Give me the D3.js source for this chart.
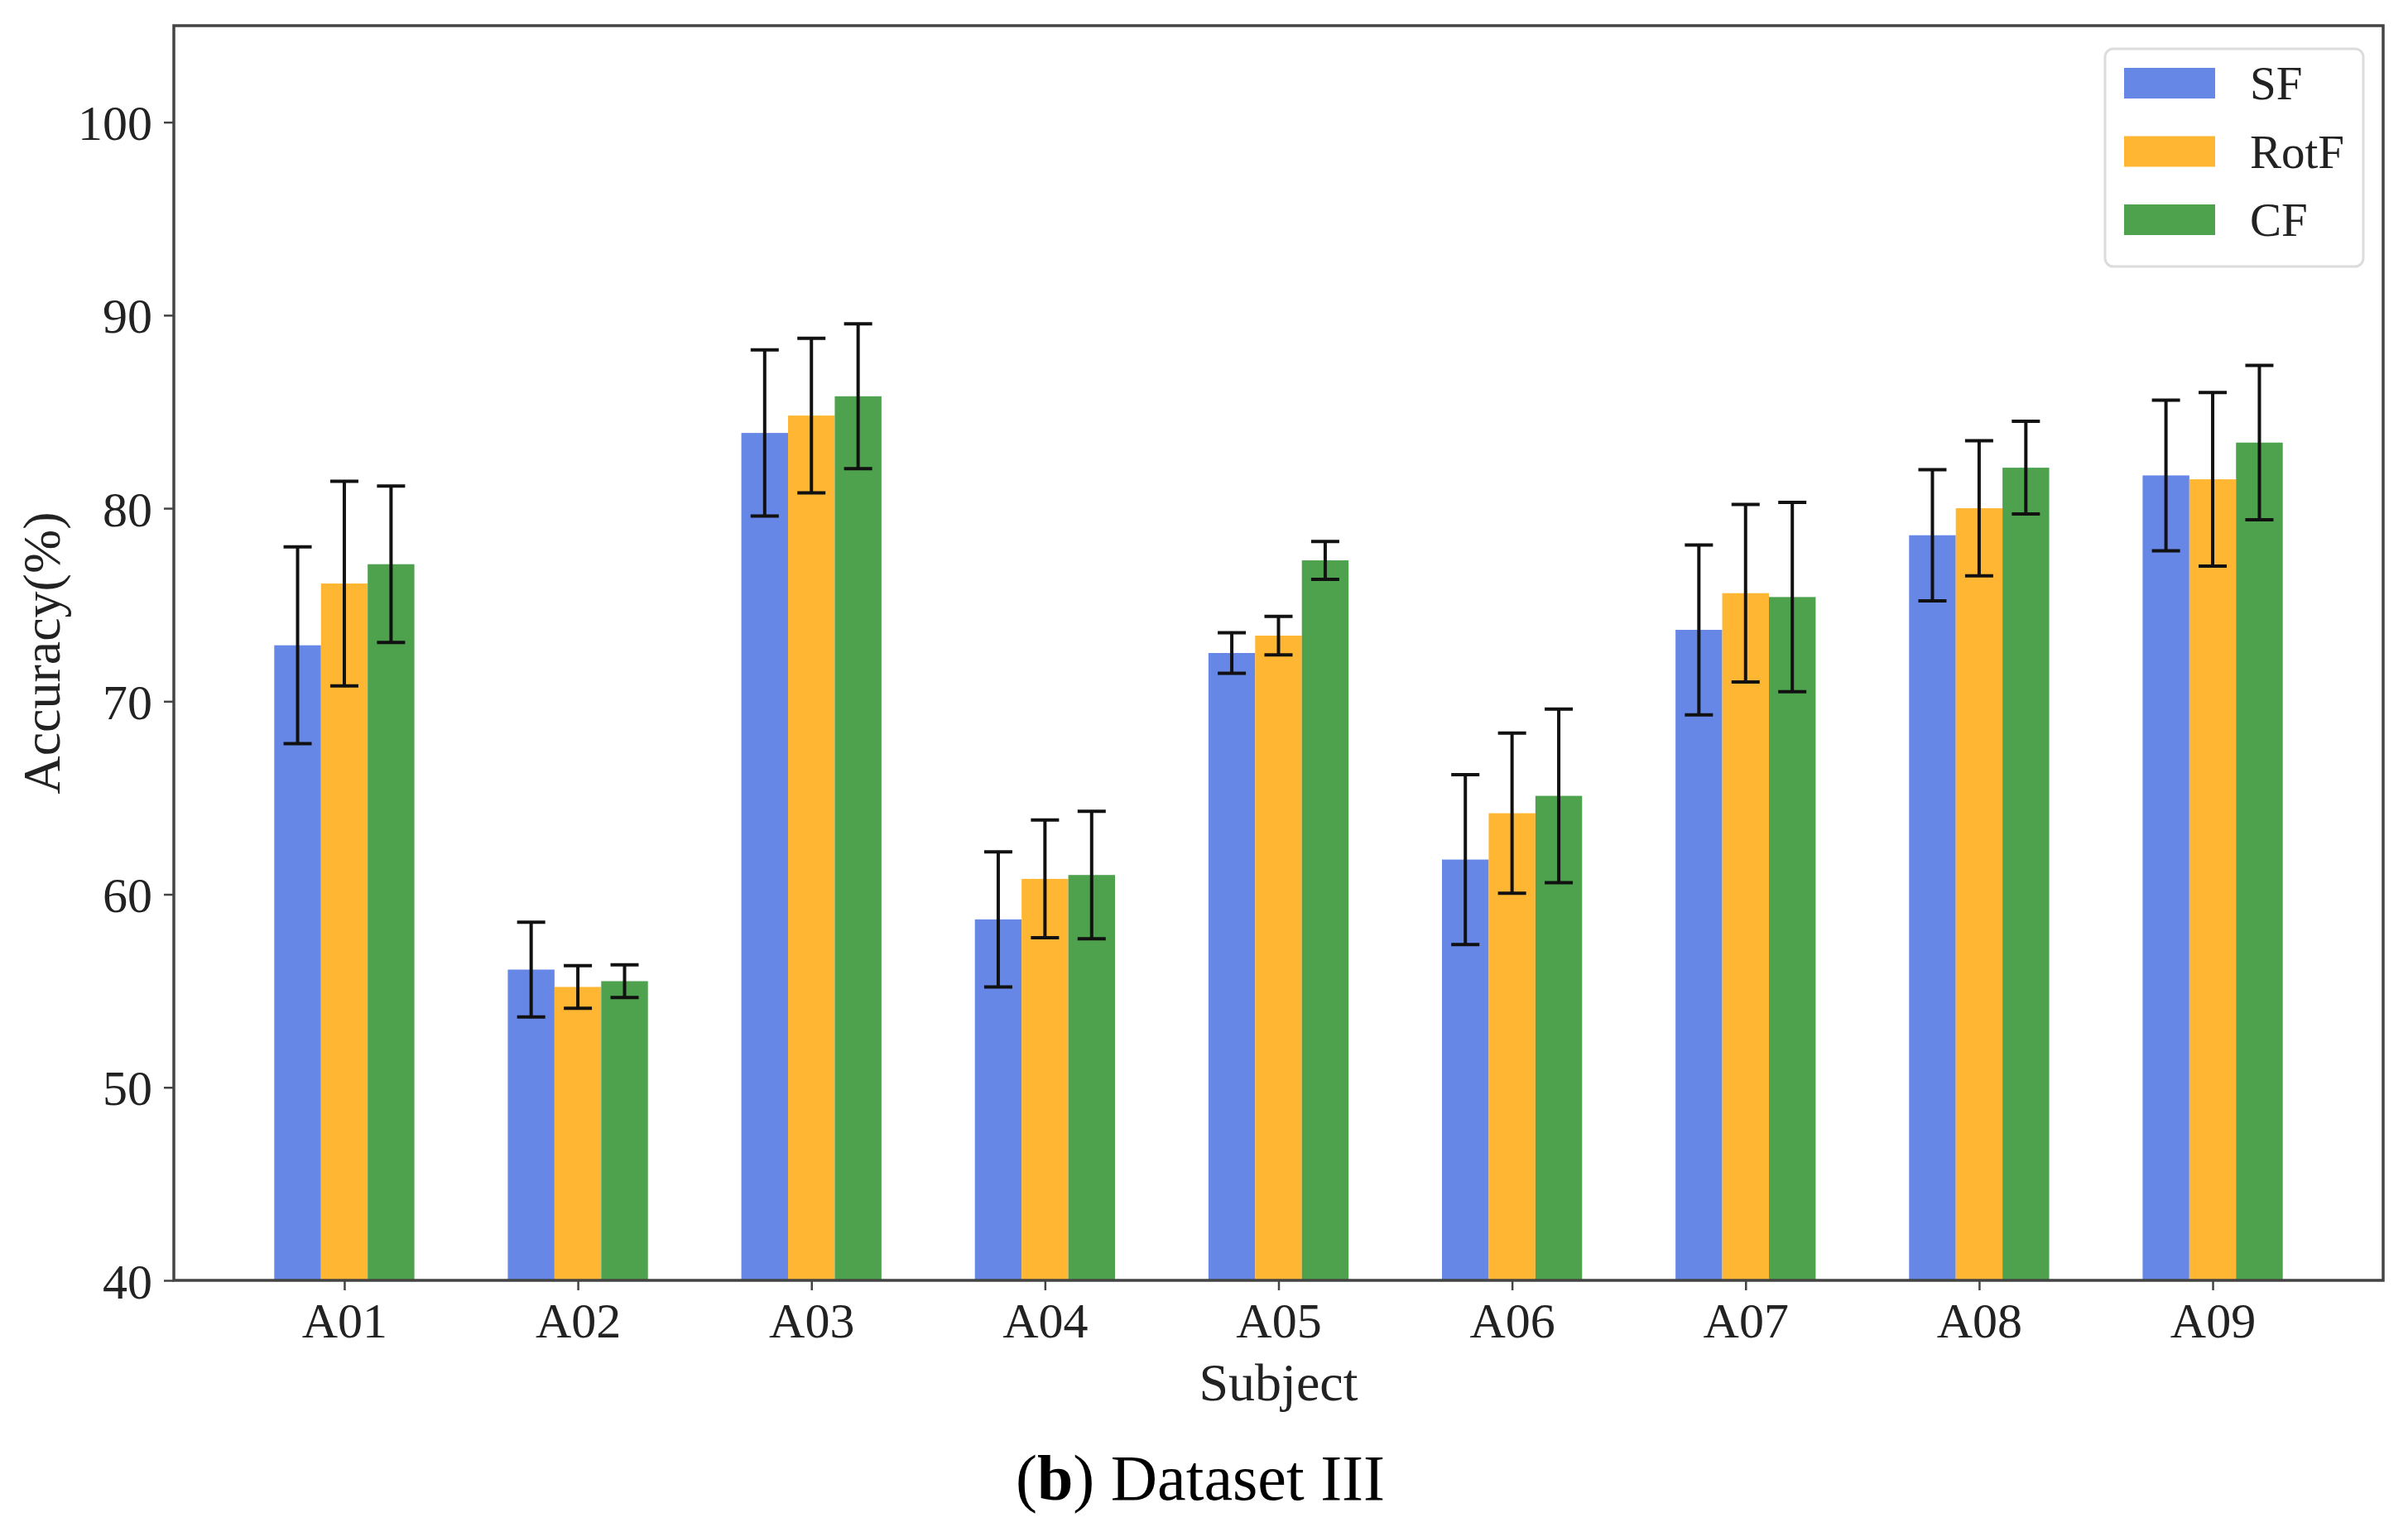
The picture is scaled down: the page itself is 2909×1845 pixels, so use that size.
<!DOCTYPE html>
<html>
<head>
<meta charset="utf-8">
<script src="https://cdn.jsdelivr.net/npm/d3@7/dist/d3.min.js"></script>
<style>
  body { margin: 0; background: #fff; }
  text { font-family: "Liberation Serif", "DejaVu Serif", serif; fill: #222; }
</style>
</head>
<body>
<svg id="chart" width="2909" height="1845"></svg>
<script>
// values
var subjects = ["A01", "A02", "A03", "A04", "A05", "A06", "A07", "A08", "A09"];
var seriesNames = ["SF", "RotF", "CF"];
var sfMean   = [72.9, 56.1, 83.9, 58.7, 72.5, 61.8, 73.7, 78.6, 81.7];
var sfStd    = [5.1, 2.45, 4.3, 3.5, 1.05, 4.4, 4.4, 3.4, 3.9];
var rotfMean = [76.1, 55.2, 84.8, 60.8, 73.4, 64.2, 75.6, 80.0, 81.5];
var rotfStd  = [5.3, 1.1, 4.0, 3.05, 1.0, 4.15, 4.6, 3.5, 4.5];
var cfMean   = [77.1, 55.5, 85.8, 61.0, 77.3, 65.1, 75.4, 82.1, 83.4];
var cfStd    = [4.05, 0.85, 3.75, 3.3, 0.98, 4.5, 4.9, 2.4, 4.0];
var yTicks   = [40, 50, 60, 70, 80, 90, 100];

var colors = ["#6787e7", "#ffb733", "#4ea24e"];
var means = [sfMean, rotfMean, cfMean];
var stds = [sfStd, rotfStd, cfStd];

// plot box (window.top is reserved, so use own names)
var plotL = 210, plotR = 2879, plotT = 31, plotB = 1547;
var barW = 0.2;

var svg = d3.select("#chart");

var x = d3.scaleLinear().domain([-0.73, 8.73]).range([plotL, plotR]);
var y = d3.scaleLinear().domain([40, 105]).range([plotB, plotT]);

// flatten into bar records
var bars = [];
seriesNames.forEach(function(name, s){
	subjects.forEach(function(sub, i){
		bars.push({series: s, idx: i, mean: means[s][i], std: stds[s][i]});
	});
});

var cx = function(d){ return x(d.idx + (d.series - 1) * barW); };

svg.append("g")
	.selectAll("rect")
	.data(bars)
	.enter()
	.append("rect")
	.attr("x", function(d){ return x(d.idx + (d.series - 1) * barW - barW / 2); })
	.attr("width", function(d){ return x(barW) - x(0); })
	.attr("y", function(d){ return y(d.mean); })
	.attr("height", function(d){ return y(40) - y(d.mean); })
	.attr("fill", function(d){ return colors[d.series]; });

// error bars
var err = svg.append("g")
	.selectAll("g")
	.data(bars)
	.enter()
	.append("g")
	.attr("stroke", "#111")
	.attr("stroke-width", 4);

var capHalf = 17;

err.append("line")
	.attr("x1", cx).attr("x2", cx)
	.attr("y1", function(d){ return y(d.mean - d.std); })
	.attr("y2", function(d){ return y(d.mean + d.std); });
err.append("line")
	.attr("x1", function(d){ return cx(d) - capHalf; })
	.attr("x2", function(d){ return cx(d) + capHalf; })
	.attr("y1", function(d){ return y(d.mean + d.std); })
	.attr("y2", function(d){ return y(d.mean + d.std); });
err.append("line")
	.attr("x1", function(d){ return cx(d) - capHalf; })
	.attr("x2", function(d){ return cx(d) + capHalf; })
	.attr("y1", function(d){ return y(d.mean - d.std); })
	.attr("y2", function(d){ return y(d.mean - d.std); });

// axes
var xAxis = svg.append("g")
	.attr("transform", "translate(0," + plotB + ")")
	.call(d3.axisBottom(x)
		.tickValues(d3.range(subjects.length))
		.tickFormat(function(i){ return subjects[i]; })
		.tickSize(12)
		.tickPadding(14));

var yAxis = svg.append("g")
	.attr("transform", "translate(" + plotL + ",0)")
	.call(d3.axisLeft(y)
		.tickValues(yTicks)
		.tickSize(12)
		.tickPadding(14));

[xAxis, yAxis].forEach(function(a){
	a.select(".domain").remove();
	a.selectAll(".tick line").attr("stroke", "#444").attr("stroke-width", 2.5);
	a.selectAll(".tick text")
		.attr("fill", "#222")
		.style("font-family", "'Liberation Serif', serif")
		.style("font-size", "60px");
});
yAxis.selectAll(".tick text").attr("dy", "0.35em");

// frame
svg.append("rect")
	.attr("x", plotL).attr("y", plotT)
	.attr("width", plotR - plotL).attr("height", plotB - plotT)
	.attr("fill", "none")
	.attr("stroke", "#444")
	.attr("stroke-width", 3.5);

// axis titles
svg.append("text")
	.attr("transform", "translate(72," + ((plotT + plotB) / 2) + ") rotate(-90)")
	.attr("text-anchor", "middle")
	.style("font-size", "64px")
	.text("Accuracy(%)");

svg.append("text")
	.attr("x", (plotL + plotR) / 2)
	.attr("y", 1692)
	.attr("text-anchor", "middle")
	.style("font-size", "64px")
	.text("Subject");

// caption
var caption = svg.append("text")
	.attr("x", 1450)
	.attr("y", 1812)
	.attr("text-anchor", "middle")
	.style("font-size", "78px")
	.style("fill", "#000");
caption.append("tspan").text("(");
caption.append("tspan").style("font-weight", "bold").text("b");
caption.append("tspan").text(") Dataset III");

// legend
var lg = svg.append("g").attr("transform", "translate(2543,59)");
lg.append("rect")
	.attr("width", 312).attr("height", 263)
	.attr("rx", 10)
	.attr("fill", "#fff")
	.attr("stroke", "#dcdcdc")
	.attr("stroke-width", 3);

var items = lg.selectAll(".item")
	.data(seriesNames)
	.enter()
	.append("g")
	.attr("class", "item")
	.attr("transform", function(d, i){ return "translate(0," + (23 + i * 82.5) + ")"; });

items.append("rect")
	.attr("x", 23).attr("width", 110).attr("height", 37)
	.attr("fill", function(d, i){ return colors[i]; });

items.append("text")
	.attr("x", 175).attr("y", 18.5)
	.attr("dy", "0.35em")
	.style("font-size", "57px")
	.text(function(d){ return d; });
</script>
</body>
</html>
